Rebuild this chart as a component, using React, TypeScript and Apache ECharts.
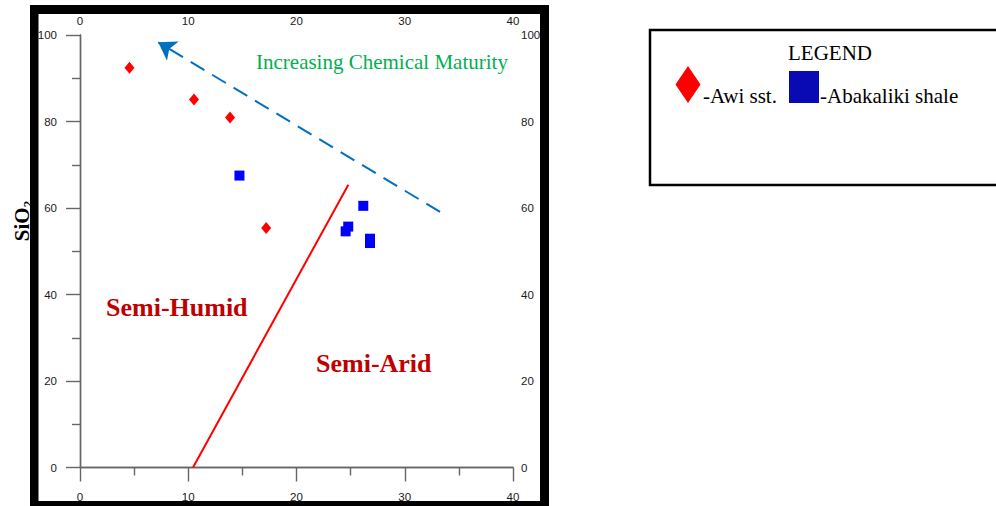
import React, { useEffect, useRef } from "react";
import * as echarts from "echarts";

// Awi sandstone (red diamonds): [Al2O3+K2O+Na2O, SiO2]
const awiX = [4.57, 10.53, 13.86, 17.2];
const awiY = [92.4, 85.1, 80.9, 55.4];
// Abakaliki shale (blue squares)
const shaleX = [14.73, 26.17, 24.78, 24.54, 26.79, 26.79];
const shaleY = [67.5, 60.5, 55.7, 54.6, 52.9, 51.9];
// Semi-humid / semi-arid boundary line
const boundaryX = [10.44, 24.79];
const boundaryY = [0, 65.4];
// Chemical maturity arrow (tail -> tip)
const arrowX = [33.26, 7.23];
const arrowY = [59.1, 98.3];
// Axis ticks
const xTicks = [0, 10, 20, 30, 40];
const yTicks = [0, 20, 40, 60, 80, 100];

const serif = "'Liberation Serif', 'Times New Roman', serif";
const sans = "'Liberation Sans', Arial, sans-serif";

export default function App() {
  const ref = useRef<HTMLDivElement>(null);
  useEffect(() => {
    if (!ref.current) return;
    const chart = echarts.init(ref.current, undefined, { renderer: "svg" });
    const axisColor = "#666";
    const labelStyle = { color: "#1a1a1a", fontSize: 11.5, fontFamily: sans };
    const xCommon = {
      type: "value" as const,
      min: xTicks[0],
      max: xTicks[xTicks.length - 1],
      interval: xTicks[1] - xTicks[0],
      splitLine: { show: false },
      axisLine: { show: true, lineStyle: { color: axisColor, width: 1.4 } },
    };
    const yCommon = {
      type: "value" as const,
      min: yTicks[0],
      max: yTicks[yTicks.length - 1],
      interval: yTicks[1] - yTicks[0],
      splitLine: { show: false },
      axisLine: { show: true, lineStyle: { color: axisColor, width: 1.4 } },
    };
    chart.setOption({
      animation: false,
      backgroundColor: "#fff",
      grid: { left: 80, right: 483, top: 35, bottom: 38.5 },
      xAxis: [
        {
          ...xCommon,
          position: "bottom",
          axisTick: { show: true, length: 14, lineStyle: { color: axisColor, width: 1.4 } },
          minorTick: { show: true, splitNumber: 2, length: 8, lineStyle: { color: axisColor, width: 1.4 } },
          axisLabel: { ...labelStyle, margin: 23 },
        },
        {
          ...xCommon,
          position: "top",
          axisTick: { show: false },
          axisLabel: { ...labelStyle, margin: 8 },
        },
      ],
      yAxis: [
        {
          ...yCommon,
          position: "left",
          axisTick: { show: true, length: 14, lineStyle: { color: axisColor, width: 1.4 } },
          minorTick: { show: true, splitNumber: 2, length: 8, lineStyle: { color: axisColor, width: 1.4 } },
          axisLabel: { ...labelStyle, margin: 23 },
        },
        {
          ...yCommon,
          position: "right",
          axisTick: { show: false },
          axisLabel: { ...labelStyle, margin: 8 },
        },
      ],
      series: [
        {
          type: "line",
          name: "boundary",
          data: boundaryX.map((x, i) => [x, boundaryY[i]]),
          symbol: "none",
          lineStyle: { color: "#FF0000", width: 2 },
          z: 2,
        },
        {
          type: "lines",
          name: "maturity",
          coordinateSystem: "cartesian2d",
          data: [{ coords: arrowX.map((x, i) => [x, arrowY[i]]) }],
          symbol: ["none", "arrow"],
          symbolSize: 17,
          lineStyle: { color: "#0070C0", width: 2, type: [16, 9], opacity: 1 },
          z: 2,
        },
        {
          type: "scatter",
          name: "Awi sst.",
          data: awiX.map((x, i) => [x, awiY[i]]),
          symbol: "diamond",
          symbolSize: [10, 12],
          itemStyle: { color: "#FF0000", opacity: 1 },
          z: 3,
        },
        {
          type: "scatter",
          name: "Abakaliki shale",
          data: shaleX.map((x, i) => [x, shaleY[i]]),
          symbol: "rect",
          symbolSize: 10,
          itemStyle: { color: "#0000FF", opacity: 1 },
          z: 3,
        },
      ],
      graphic: [
        // black picture frame
        { type: "rect", shape: { x: 30, y: 5, width: 519, height: 9 }, style: { fill: "#000" }, z: 100 },
        { type: "rect", shape: { x: 30, y: 5, width: 8.5, height: 501 }, style: { fill: "#000" }, z: 100 },
        { type: "rect", shape: { x: 540, y: 5, width: 9, height: 501 }, style: { fill: "#000" }, z: 100 },
        { type: "rect", shape: { x: 30, y: 501, width: 519, height: 5 }, style: { fill: "#000" }, z: 100 },
        // y-axis name
        {
          type: "text",
          x: 22,
          y: 221,
          rotation: Math.PI / 2,
          style: {
            text: "SiO{s|2}",
            font: `bold 21px ${serif}`,
            fill: "#000",
            align: "center",
            verticalAlign: "middle",
            rich: {
              s: { fontSize: 13, fontWeight: "bold", fontFamily: serif, padding: [10, 0, 0, 0] },
            },
          },
          z: 110,
        },
        // annotations
        {
          type: "text",
          x: 256,
          y: 62,
          style: {
            text: "Increasing Chemical Maturity",
            font: `21px ${serif}`,
            fill: "#00B050",
            align: "left",
            verticalAlign: "middle",
          },
          z: 50,
        },
        {
          type: "text",
          x: 106,
          y: 307,
          style: {
            text: "Semi-Humid",
            font: `bold 26px ${serif}`,
            fill: "#C00000",
            align: "left",
            verticalAlign: "middle",
          },
          z: 50,
        },
        {
          type: "text",
          x: 316,
          y: 363,
          style: {
            text: "Semi-Arid",
            font: `bold 26px ${serif}`,
            fill: "#C00000",
            align: "left",
            verticalAlign: "middle",
          },
          z: 50,
        },
        // legend box
        {
          type: "rect",
          shape: { x: 650, y: 30, width: 360, height: 155 },
          style: { fill: "#fff", stroke: "#000", lineWidth: 2.5 },
          z: 50,
        },
        {
          type: "text",
          x: 830,
          y: 53,
          style: { text: "LEGEND", font: `21px ${serif}`, fill: "#000", align: "center", verticalAlign: "middle" },
          z: 51,
        },
        {
          type: "polygon",
          shape: { points: [[688, 66], [700.5, 84.5], [688, 103], [675.5, 84.5]] },
          style: { fill: "#FF0000" },
          z: 51,
        },
        {
          type: "text",
          x: 703,
          y: 96,
          style: { text: "-Awi sst.", font: `21px ${serif}`, fill: "#000", align: "left", verticalAlign: "middle" },
          z: 51,
        },
        {
          type: "rect",
          shape: { x: 789, y: 71, width: 30, height: 32 },
          style: { fill: "#0A0AB4" },
          z: 51,
        },
        {
          type: "text",
          x: 820,
          y: 96,
          style: { text: "-Abakaliki shale", font: `21px ${serif}`, fill: "#000", align: "left", verticalAlign: "middle" },
          z: 51,
        },
      ],
    });
    return () => chart.dispose();
  }, []);
  return (
    <div
      ref={ref}
      style={{ position: "absolute", left: 0, top: 0, width: 996, height: 506, background: "#fff" }}
    />
  );
}
